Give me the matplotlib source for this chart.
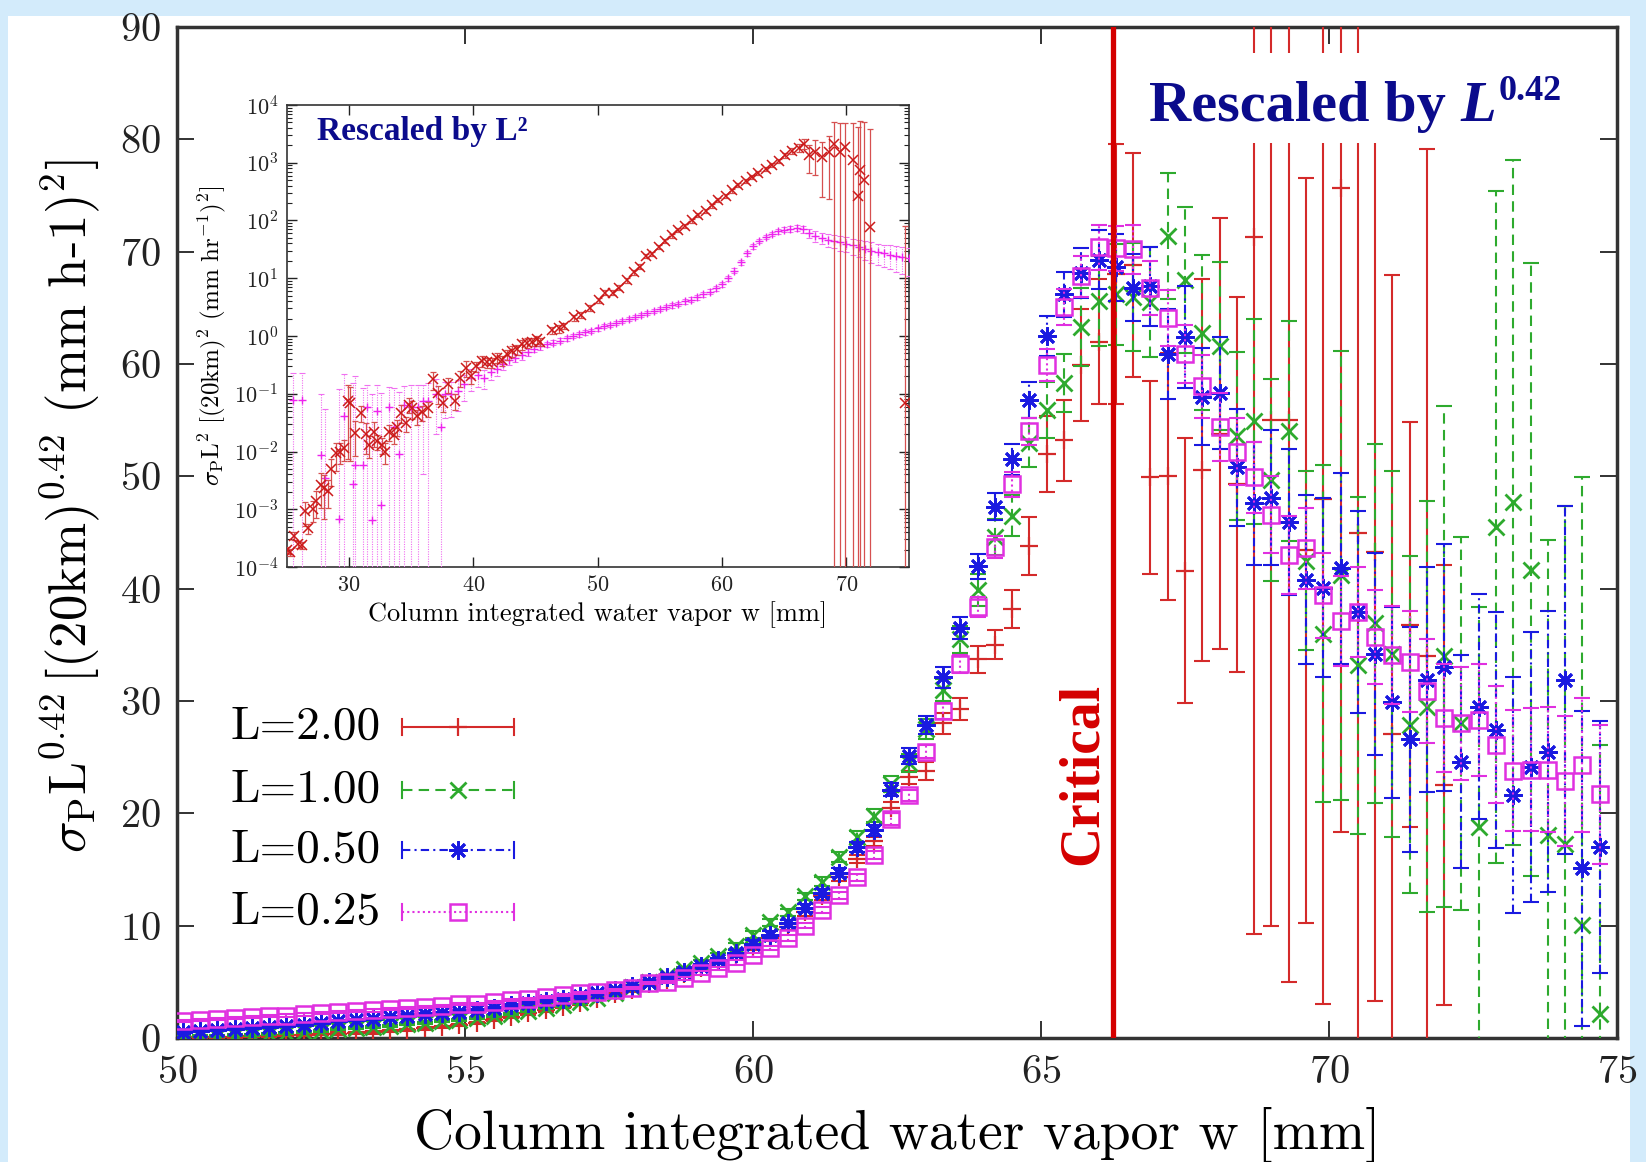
import matplotlib
matplotlib.use('Agg')
import matplotlib.pyplot as plt
from matplotlib.patches import Rectangle
from matplotlib.ticker import LogFormatterMathtext, LogLocator, NullFormatter, MultipleLocator
import numpy as np

plt.rcParams['mathtext.fontset'] = 'cm'
plt.rcParams['font.family'] = 'cmr10'
plt.rcParams['axes.unicode_minus'] = False
plt.rcParams['axes.formatter.use_mathtext'] = True

nan = np.nan

# ---- main panel: sigma_P * L^0.42 vs column water vapour (bin centres) ----
w = [50.1, 50.4, 50.7, 51.0, 51.3, 51.6, 51.9, 52.2, 52.5, 52.8,
     53.1, 53.4, 53.7, 54.0, 54.3, 54.6, 54.9, 55.2, 55.5, 55.8,
     56.1, 56.4, 56.7, 57.0, 57.3, 57.6, 57.9, 58.2, 58.5, 58.8,
     59.1, 59.4, 59.7, 60.0, 60.3, 60.6, 60.9, 61.2, 61.5, 61.8,
     62.1, 62.4, 62.7, 63.0, 63.3, 63.6, 63.9, 64.2, 64.5, 64.8,
     65.1, 65.4, 65.7, 66.0, 66.3, 66.6, 66.9, 67.2, 67.5, 67.8,
     68.1, 68.4, 68.7, 69.0, 69.3, 69.6, 69.9, 70.2, 70.5, 70.8,
     71.1, 71.4, 71.7, 72.0, 72.3, 72.6, 72.9, 73.2, 73.5, 73.8,
     74.1, 74.4, 74.7]

# L = 2.00
sig_200 = [0.05, 0.08, 0.10, 0.12, 0.15, 0.20, 0.25, 0.30, 0.35, 0.40,
           0.45, 0.50, 0.60, 0.70, 0.85, 1.00, 1.15, 1.35, 1.60, 1.90,
           2.20, 2.50, 2.80, 3.10, 3.50, 3.90, 4.30, 4.80, 5.20, 5.70,
           6.20, 6.80, 7.40, 8.10, 8.90, 9.90, 11.2, 12.6, 14.3, 15.9,
           17.5, 20.5, 23.2, 23.8, 28.0, 29.3, 33.7, 35.0, 38.2, 43.8,
           52.0, 53.2, 59.9, 62.0, 68.0, 68.8, 49.9, 50.0, 41.6, 50.6,
           53.8, 49.3, 71.3, 55.0, 55.0, 43.4, 48.0, 75.7, 45.0, 43.3,
           27.1, 36.8, 34.0, 22.5, nan, nan, nan, nan, nan, nan,
           nan, nan, nan]
err_200 = [0.1, 0.1, 0.1, 0.1, 0.1, 0.1, 0.1, 0.1, 0.1, 0.1,
           0.1, 0.1, 0.1, 0.1, 0.1, 0.1, 0.1, 0.1, 0.1, 0.15,
           0.15, 0.15, 0.15, 0.15, 0.15, 0.15, 0.2, 0.2, 0.2, 0.2,
           0.2, 0.2, 0.2, 0.25, 0.25, 0.25, 0.3, 0.3, 0.3, 0.35,
           0.4, 0.5, 0.6, 0.8, 0.9, 1.0, 1.2, 1.3, 1.7, 2.6,
           3.4, 3.6, 5.0, 5.6, 11.6, 10.0, 8.6, 11.0, 11.8, 17.0,
           19.2, 16.7, 62.0, 45.0, 50.0, 33.2, 45.0, 57.4, 70.0, 40.0,
           40.8, 18.0, 45.1, 19.6, nan, nan, nan, nan, nan, nan,
           nan, nan, nan]

# L = 1.00
sig_100 = [0.10, 0.15, 0.20, 0.25, 0.30, 0.35, 0.45, 0.55, 0.65, 0.80,
           0.90, 1.00, 1.10, 1.25, 1.35, 1.50, 1.60, 1.75, 1.95, 2.15,
           2.40, 2.65, 2.90, 3.20, 3.60, 4.00, 4.50, 5.00, 5.50, 6.10,
           6.70, 7.30, 8.20, 9.20, 10.3, 11.2, 12.6, 13.9, 16.1, 17.9,
           19.8, 22.6, 24.5, 27.5, 31.0, 35.5, 39.9, 44.6, 46.5, 53.0,
           55.9, 58.3, 63.3, 65.6, 66.2, 66.0, 65.5, 71.4, 67.5, 62.8,
           61.6, 53.6, 54.9, 49.7, 54.0, 42.5, 36.0, 41.2, 33.2, 36.9,
           34.2, 27.9, 29.5, 34.0, 28.0, 18.8, 45.5, 47.7, 41.7, 18.1,
           17.3, 10.1, 2.1]
err_100 = [0.1, 0.1, 0.1, 0.1, 0.1, 0.1, 0.1, 0.1, 0.1, 0.1,
           0.1, 0.1, 0.1, 0.1, 0.1, 0.1, 0.1, 0.1, 0.1, 0.1,
           0.1, 0.1, 0.1, 0.15, 0.15, 0.15, 0.2, 0.2, 0.2, 0.2,
           0.2, 0.25, 0.25, 0.3, 0.3, 0.3, 0.35, 0.4, 0.45, 0.5,
           0.6, 0.7, 0.8, 0.9, 1.0, 1.2, 1.4, 1.6, 1.8, 2.2,
           2.5, 2.6, 3.5, 4.0, 4.5, 4.8, 4.9, 5.6, 6.5, 6.9,
           7.5, 7.5, 9.1, 9.0, 9.8, 8.0, 15.0, 20.0, 15.0, 16.0,
           16.3, 15.0, 18.3, 22.3, 16.6, 19.6, 29.9, 30.5, 27.3, 26.2,
           30.1, 39.8, 24.0]

# L = 0.50
sig_050 = [0.50, 0.60, 0.70, 0.80, 0.90, 1.00, 1.10, 1.20, 1.35, 1.50,
           1.60, 1.70, 1.85, 2.00, 2.10, 2.25, 2.35, 2.50, 2.70, 2.90,
           3.10, 3.30, 3.50, 3.70, 4.00, 4.30, 4.60, 5.00, 5.40, 5.90,
           6.40, 6.90, 7.60, 8.40, 9.20, 10.2, 11.6, 12.9, 14.7, 17.0,
           18.5, 22.1, 25.1, 27.9, 32.1, 36.5, 42.0, 47.3, 51.5, 56.8,
           62.5, 66.2, 68.1, 69.3, 68.6, 66.8, 66.9, 60.9, 62.4, 57.1,
           57.4, 50.8, 47.6, 48.1, 45.9, 40.8, 40.1, 41.8, 37.9, 34.2,
           29.9, 26.6, 31.9, 33.0, 24.6, 29.5, 27.4, 21.6, 24.1, 25.5,
           31.9, 15.1, 17.0]
err_050 = [0.1, 0.1, 0.1, 0.1, 0.1, 0.1, 0.1, 0.1, 0.1, 0.1,
           0.1, 0.1, 0.1, 0.1, 0.1, 0.1, 0.1, 0.1, 0.1, 0.1,
           0.1, 0.1, 0.1, 0.1, 0.15, 0.15, 0.15, 0.2, 0.2, 0.2,
           0.2, 0.25, 0.25, 0.3, 0.3, 0.3, 0.35, 0.35, 0.4, 0.45,
           0.5, 0.6, 0.7, 0.8, 0.9, 1.0, 1.1, 1.2, 1.4, 1.6,
           1.8, 2.0, 2.2, 2.6, 3.0, 3.0, 3.5, 4.0, 4.5, 4.3,
           5.0, 5.2, 5.5, 6.0, 6.5, 7.5, 8.0, 8.5, 9.0, 9.0,
           8.5, 10.0, 10.0, 11.0, 9.5, 10.0, 10.5, 10.5, 12.0, 12.5,
           15.5, 14.0, 11.2]

# L = 0.25
sig_025 = [1.50, 1.60, 1.70, 1.75, 1.85, 1.95, 2.00, 2.10, 2.20, 2.30,
           2.40, 2.45, 2.55, 2.65, 2.75, 2.85, 3.00, 3.05, 3.20, 3.35,
           3.50, 3.65, 3.85, 4.00, 4.10, 4.30, 4.45, 4.90, 5.00, 5.30,
           5.80, 6.20, 6.70, 7.40, 8.00, 8.90, 10.0, 11.4, 12.7, 14.3,
           16.3, 19.5, 21.6, 25.5, 29.1, 33.3, 38.4, 43.7, 49.3, 54.0,
           59.9, 65.1, 67.8, 70.4, 70.3, 70.2, 66.8, 64.1, 60.9, 58.0,
           54.4, 52.2, 49.9, 46.6, 43.0, 43.6, 39.4, 37.1, 37.9, 35.7,
           34.1, 33.5, 30.9, 28.5, 28.0, 28.3, 26.1, 23.8, 23.9, 23.9,
           22.9, 24.3, 21.7]
err_025 = [0.1, 0.1, 0.1, 0.1, 0.1, 0.1, 0.1, 0.1, 0.1, 0.1,
           0.1, 0.1, 0.1, 0.1, 0.1, 0.1, 0.1, 0.1, 0.1, 0.1,
           0.1, 0.1, 0.1, 0.1, 0.1, 0.1, 0.1, 0.1, 0.1, 0.1,
           0.15, 0.15, 0.2, 0.2, 0.2, 0.25, 0.25, 0.3, 0.3, 0.3,
           0.35, 0.5, 0.5, 0.6, 0.7, 0.8, 0.9, 1.0, 1.1, 1.2,
           1.4, 1.6, 1.8, 2.0, 2.0, 2.2, 2.4, 2.5, 2.6, 2.8,
           3.0, 3.0, 3.2, 3.4, 3.5, 3.6, 3.8, 4.0, 4.0, 4.2,
           4.4, 4.5, 4.6, 4.8, 5.0, 5.0, 5.2, 5.4, 5.5, 5.6,
           5.8, 6.0, 6.2]

labels = ['L=2.00', 'L=1.00', 'L=0.50', 'L=0.25']
w_crit = 66.25

# ---- inset: sigma_P * L^2 on a log axis ----
ins_w_a = [25.0, 25.3, 25.6, 25.95, 26.2, 26.5, 26.75, 27.1, 27.4, 27.75,
           28.0, 28.3, 28.6, 29.0, 29.3, 29.65, 29.9, 30.1, 30.5, 31.0,
           31.35, 31.6, 32.0, 32.3, 32.7, 32.95, 33.25, 33.65, 33.9, 34.2,
           34.6, 34.85, 35.1, 35.5, 35.9, 36.35, 36.75, 37.15, 37.55, 37.95,
           38.5, 38.9, 39.45, 39.85, 40.25, 40.7, 41.1, 41.5, 41.9, 42.3,
           42.7, 43.1, 43.5, 43.9, 44.3, 44.7, 45.1, 45.4, 46.3, 46.9,
           47.3, 48.1, 48.7, 49.4, 50.1, 50.6, 51.2, 51.7, 52.4, 52.9,
           53.4, 53.9, 54.4, 54.9, 55.4, 56.0, 56.5, 57.05, 57.6, 58.1,
           58.7, 59.2, 59.7, 60.3, 60.8, 61.3, 61.9, 62.4, 62.9, 63.5,
           64.0, 64.6, 65.1, 65.6, 66.2, 66.6, 67.0, 67.5, 68.0, 68.6,
           69.0, 69.5, 69.9, 70.5, 70.9, 71.1, 71.4, 71.9, 74.7]
ins_sig_a = [1.95e-4, 1.8e-4, 3.5e-4, 2.5e-4, 2.4e-4, 9.3e-4, 4.7e-4, 1.0e-3, 1.4e-3, 2.6e-3,
             2.3e-3, 2.1e-3, 5.0e-3, 9.3e-3, 1.0e-2, 1.15e-2, 7.4e-2, 6.8e-2, 2.1e-2, 4.7e-2,
             2.0e-2, 1.3e-2, 2.2e-2, 1.5e-2, 1.3e-2, 1.0e-2, 2.2e-2, 1.95e-2, 2.7e-2, 4.7e-2,
             3.1e-2, 6.5e-2, 5.6e-2, 4.1e-2, 4.8e-2, 5.6e-2, 0.178, 0.102, 0.069, 0.145,
             0.076, 0.19, 0.28, 0.20, 0.30, 0.37, 0.35, 0.35, 0.42, 0.38,
             0.48, 0.55, 0.59, 0.72, 0.76, 0.79, 0.87, 0.79, 1.26, 1.35,
             1.48, 2.1, 2.34, 3.1, 4.2, 5.6, 5.6, 6.9, 9.3, 12.6,
             15.8, 24.5, 26.3, 34.7, 44.7, 55.0, 67.6, 81.0, 100.0, 123.0,
             148.0, 182.0, 224.0, 269.0, 331.0, 407.0, 479.0, 562.0, 661.0, 794.0,
             912.0, 1070.0, 1350.0, 1620.0, 1820.0, 2140.0, 1350.0, 1550.0, 1260.0, 1550.0,
             2140.0, 1550.0, 1900.0, 1100.0, 263.0, 740.0, 500.0, 76.0, 0.069]
ins_rel_a = [0.15, 0.15, 0.15, 0.15, 0.15, 0.45, 0.2, 0.4, 0.5, 0.6,
             0.7, 0.5, 0.5, 0.5, 0.4, 0.4, 0.9, 0.9, 0.6, 0.3,
             0.55, 0.4, 0.45, 0.3, 0.3, 0.4, 0.3, 0.3, 0.3, 0.35,
             0.3, 0.3, 0.35, 0.3, 0.3, 0.3, 0.35, 0.35, 0.3, 0.3,
             0.3, 0.3, 0.3, 0.25, 0.2, 0.2, 0.2, 0.2, 0.2, 0.2,
             0.2, 0.2, 0.2, 0.2, 0.2, 0.15, 0.15, 0.15, 0.15, 0.15,
             0.12, 0.12, 0.12, 0.12, 0.1, 0.1, 0.1, 0.1, 0.1, 0.1,
             0.1, 0.08, 0.08, 0.08, 0.08, 0.08, 0.08, 0.08, 0.08, 0.08,
             0.08, 0.08, 0.08, 0.08, 0.08, 0.08, 0.08, 0.08, 0.08, 0.08,
             0.08, 0.08, 0.1, 0.12, 0.15, 0.2, 0.5, 0.6, 0.8, 0.85,
             1.4, 2.2, 1.6, 3.5, 15.0, 6.0, 9.0, 50.0, 1150.0]

ins_w_b = [25.55, 26.2, 27.75, 28.1, 29.2, 29.6, 30.3, 30.5, 31.15, 31.5,
           31.9, 32.3, 32.55, 33.25, 33.65, 34.0, 34.45, 35.0, 35.55, 35.95,
           36.35, 37.0, 37.4, 37.7, 38.25, 38.8, 39.3, 39.85, 40.4, 40.9,
           41.4, 41.9, 42.4, 42.9, 43.4, 43.9, 44.4, 44.9, 45.4, 45.9,
           46.4, 47.0, 47.5, 48.0, 48.5, 49.0, 49.5, 50.0, 50.5, 51.0,
           51.5, 52.0, 52.5, 53.0, 53.5, 54.0, 54.5, 55.0, 55.5, 56.0,
           56.5, 57.0, 57.5, 58.0, 58.5, 59.0, 59.5, 60.0, 60.5, 61.0,
           61.5, 62.0, 62.5, 63.0, 63.5, 64.0, 64.5, 65.0, 65.5, 66.0,
           66.5, 67.0, 67.5, 68.0, 68.5, 69.0, 69.5, 70.0, 70.5, 71.0,
           71.5, 72.0, 72.5, 73.0, 73.5, 74.0, 74.5, 75.0]
ins_sig_b = [0.079, 0.079, 0.0087, 0.0035, 0.00069, 0.041, 0.0027, 0.0058, 0.0058, 0.059,
             0.00066, 0.051, 0.0012, 0.060, 0.027, 0.009, 0.065, 0.060, 0.060, 0.074,
             0.074, 0.10, 0.027, 0.098, 0.10, 0.11, 0.145, 0.19, 0.21, 0.19,
             0.24, 0.27, 0.33, 0.38, 0.42, 0.46, 0.52, 0.60, 0.66, 0.72,
             0.77, 0.83, 0.91, 1.0, 1.07, 1.15, 1.23, 1.35, 1.48, 1.58,
             1.70, 1.82, 1.95, 2.14, 2.34, 2.51, 2.69, 2.95, 3.16, 3.39,
             3.63, 3.98, 4.27, 4.68, 5.25, 5.89, 6.76, 7.94, 10.0, 13.5,
             19.1, 26.9, 35.5, 44.7, 52.5, 58.9, 64.6, 69.2, 72.4, 74.1,
             70.8, 60.3, 53.7, 50.1, 46.8, 44.7, 41.7, 39.8, 37.2, 34.7,
             32.4, 30.2, 28.2, 26.9, 25.7, 24.5, 23.4, 22.4]
ins_err_b = [0.15, 0.15, 0.09, 0.05, 0.12, 0.18, 0.15, 0.2, 0.12, 0.08,
             0.1, 0.09, 0.1, 0.07, 0.1, 0.1, 0.07, 0.08, 0.08, 0.07,
             0.08, 0.08, 0.07, 0.06, 0.06, 0.06, 0.07, 0.08, 0.08, 0.07,
             0.07, 0.07, 0.07, 0.07, 0.07, 0.07, 0.07, 0.08, 0.08, 0.08,
             0.08, 0.08, 0.08, 0.09, 0.09, 0.1, 0.1, 0.11, 0.12, 0.13,
             0.14, 0.15, 0.16, 0.18, 0.2, 0.21, 0.23, 0.25, 0.27, 0.3,
             0.32, 0.35, 0.4, 0.45, 0.5, 0.55, 0.65, 0.8, 1.0, 1.3,
             1.8, 2.5, 3.2, 4.0, 4.6, 5.2, 5.8, 6.5, 8.0, 9.5,
             10.5, 11.0, 11.0, 11.5, 11.5, 11.5, 11.5, 11.5, 11.5, 11.5,
             11.5, 11.5, 11.5, 11.5, 11.5, 11.5, 11.5, 11.5]

RED = '#d42a2a'
GREEN = '#2eaa2e'
BLUE = '#1a1ae0'
MAGENTA = '#e030e0'
NAVY = '#0b0b8c'
CRIT = '#d40000'


def draw_series(ax, x, y, e, color, marker, ls, ms, mew, zo):
    eb = ax.errorbar(x, y, yerr=e, fmt='none', ecolor=color, elinewidth=1.5,
                     capsize=6, capthick=1.5, zorder=zo)
    eb[2][0].set_linestyle(ls)
    ax.plot(x, y, ls='none', marker=marker, ms=ms, mec=color, mfc='none',
            mew=mew, zorder=zo + 0.5)


def main():
    fig = plt.figure(figsize=(16.46, 11.62), dpi=100, facecolor='#d3ebfb')
    # white slide area behind everything
    fig.patches.append(Rectangle((8 / 1646, 0), 1622 / 1646, 1146 / 1162,
                                 transform=fig.transFigure, facecolor='white',
                                 edgecolor='none', zorder=-10))

    ax = fig.add_axes([177 / 1646, 1 - 1038 / 1162, 1440 / 1646, 1011 / 1162])
    ax.set_facecolor('white')

    styles = [
        (sig_200, err_200, RED, '+', '-', 13, 1.6),
        (sig_100, err_100, GREEN, 'x', (0, (5, 3)), 11, 2.0),
        (sig_050, err_050, BLUE, (8, 2, 0), (0, (4, 2, 1, 2)), 13, 2.0),
        (sig_025, err_025, MAGENTA, 's', (0, (1, 1.5)), 11, 1.8),
    ]
    for i, (y, e, c, m, ls, ms, mew) in enumerate(styles):
        draw_series(ax, w, y, e, c, m, ls, ms, mew, 3 + i)

    ax.axvline(w_crit, color=CRIT, lw=3.8, zorder=9)
    ax.text(65.72, 23.5, 'Critical', rotation=90, color=CRIT, fontsize=40,
            fontweight='bold', family='Liberation Serif', ha='center',
            va='center', zorder=10)

    ax.set_xlim(50, 75)
    ax.set_ylim(0, 90)
    ax.xaxis.set_major_locator(MultipleLocator(5))
    ax.yaxis.set_major_locator(MultipleLocator(10))
    ax.tick_params(direction='in', length=12, width=1.3, top=True, right=True,
                   labelsize=29, pad=12, colors='#222222')
    for s in ax.spines.values():
        s.set_linewidth(2.5)
        s.set_color('#333333')

    ax.set_xlabel('Column integrated water vapor w [mm]', fontsize=40, labelpad=12)
    ax.set_ylabel(r'$\sigma_\mathrm{P}\mathrm{L}^{0.42}\,[(20\mathrm{km})^{0.42}$'
                  r' (mm h-1)$^2$]', fontsize=38)
    ax.yaxis.set_label_coords(-0.052, 0.526)

    # hand-made key, gnuplot style
    key_y = [0.3076, 0.2453, 0.1859, 0.1246]
    for (y, e, c, m, ls, ms, mew), lab, ky in zip(styles, labels, key_y):
        ax.text(0.0375, ky, lab, transform=ax.transAxes, fontsize=34,
                va='center', ha='left', zorder=12)
        ax.plot([0.156, 0.234], [ky, ky], transform=ax.transAxes, color=c,
                ls=ls, lw=1.5, zorder=12)
        for xe in (0.156, 0.234):
            ax.plot([xe, xe], [ky - 0.008, ky + 0.008], transform=ax.transAxes,
                    color=c, lw=1.5, zorder=12)
        ax.plot([0.195], [ky], transform=ax.transAxes, ls='none', marker=m,
                ms=ms, mec=c, mfc='none', mew=mew, zorder=12)

    # title box for the main panel
    ax.add_patch(Rectangle((0.6556, 0.885), 0.329, 0.089, transform=ax.transAxes,
                           facecolor='white', edgecolor='none', zorder=11))
    t1 = ax.text(0.675, 0.907, 'Rescaled by ', transform=ax.transAxes,
                 fontsize=42, fontweight='bold', family='Liberation Serif',
                 color=NAVY, va='baseline', ha='left', zorder=12)
    t2 = ax.annotate('L', xy=(1, 0), xycoords=t1, xytext=(0, 0),
                     textcoords='offset points', fontsize=42, fontweight='bold',
                     fontstyle='italic', family='Liberation Serif', color=NAVY,
                     va='bottom', ha='left', zorder=12)
    ax.annotate('0.42', xy=(1, 1), xycoords=t2, xytext=(2, 4),
                textcoords='offset points', fontsize=26, fontweight='bold',
                family='Liberation Serif', color=NAVY, va='top', ha='left',
                zorder=12)

    # ---- inset ----
    axin = fig.add_axes([286.6 / 1646, 1 - 567 / 1162, 622 / 1646, 462 / 1162])
    axin.set_facecolor('white')
    axin.set_yscale('log')

    sb = np.array(ins_sig_b)
    eb = axin.errorbar(ins_w_b, sb, yerr=np.array(ins_err_b), fmt='none',
                       ecolor='#f070f0', elinewidth=0.8, capsize=2, capthick=0.8,
                       zorder=3)
    eb[2][0].set_linestyle((0, (1, 1.2)))
    axin.plot(ins_w_b, sb, ls='none', marker='+', ms=6, mec='#ee22ee', mew=1.0,
              zorder=4)

    sa = np.array(ins_sig_a)
    ea = sa * np.array(ins_rel_a)
    axin.errorbar(ins_w_a, sa, yerr=ea, fmt='none', ecolor='#d65050',
                  elinewidth=0.9, capsize=2.5, capthick=0.9, zorder=5)
    axin.plot(ins_w_a, sa, ls='none', marker='x', ms=6.5, mec='#cc1a1a', mew=1.1,
              zorder=6)

    axin.set_xlim(25, 75)
    axin.set_ylim(1e-4, 1e4)
    axin.xaxis.set_major_locator(MultipleLocator(10))
    axin.yaxis.set_major_locator(LogLocator(base=10, numticks=20))
    axin.yaxis.set_major_formatter(LogFormatterMathtext())
    axin.yaxis.set_minor_locator(LogLocator(base=10, subs=np.arange(2, 10), numticks=20))
    axin.yaxis.set_minor_formatter(NullFormatter())
    axin.tick_params(which='both', direction='in', top=True, right=True,
                     labelsize=16, colors='#222222')
    axin.tick_params(which='major', length=7, width=1.0, pad=6)
    axin.tick_params(which='minor', length=3.5, width=0.8)
    for s in axin.spines.values():
        s.set_linewidth(1.2)
        s.set_color('#333333')
    axin.set_xlabel('Column integrated water vapor w [mm]', fontsize=19, labelpad=4)
    axin.set_ylabel(r'$\sigma_\mathrm{P}\mathrm{L}^2\ [(20\mathrm{km})^2\ '
                    r'(\mathrm{mm\ hr}^{-1})^2]$', fontsize=18, labelpad=4)
    axin.text(0.049, 0.924, 'Rescaled by L²', transform=axin.transAxes,
              fontsize=24, fontweight='bold', family='Liberation Serif',
              color=NAVY, va='baseline', ha='left', zorder=8)

    fig.savefig('out.png', dpi=100, facecolor=fig.get_facecolor())


if __name__ == '__main__':
    main()
